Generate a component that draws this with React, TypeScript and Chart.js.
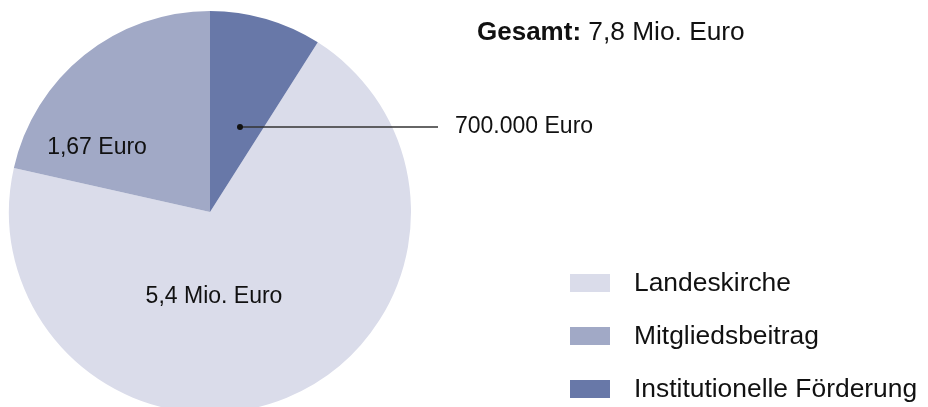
import React, { useEffect, useRef } from "react";
import { Chart, registerables } from "chart.js";

Chart.register(...registerables);

const categories = ["Landeskirche", "Mitgliedsbeitrag", "Institutionelle Förderung"];
const values = [5.4, 1.67, 0.7]; // Mio. Euro
const sliceLabels = ["5,4 Mio. Euro", "1,67 Euro", "700.000 Euro"];
const colors = ["#DADCEA", "#A1A9C6", "#6878A8"];
const totalLabelBold = "Gesamt:";
const totalLabelRest = " 7,8 Mio. Euro";

const FONT = "'Liberation Sans', Arial, Helvetica, sans-serif";

const overlayPlugin = {
  id: "overlay",
  afterDraw(chart: any) {
    const ctx = chart.ctx as CanvasRenderingContext2D;
    const meta = chart.getDatasetMeta(0);
    const arc0 = meta.data[0] as any;
    const cx = arc0.x;
    const cy = arc0.y;
    ctx.save();
    ctx.fillStyle = "#111";
    ctx.textBaseline = "middle";
    ctx.font = `23px ${FONT}`;

    // Landeskirche label
    ctx.textAlign = "center";
    ctx.fillText(sliceLabels[0], cx + 4, cy + 85);
    // Mitgliedsbeitrag label
    ctx.fillText(sliceLabels[1], cx - 113, cy - 64);

    // Institutionelle Förderung leader line
    const dx = cx + 30;
    const dy = cy - 85;
    ctx.strokeStyle = "#333";
    ctx.lineWidth = 1.6;
    ctx.beginPath();
    ctx.moveTo(dx, dy);
    ctx.lineTo(cx + 228, dy);
    ctx.stroke();
    ctx.fillStyle = "#111";
    ctx.beginPath();
    ctx.arc(dx, dy, 3, 0, Math.PI * 2);
    ctx.fill();
    ctx.textAlign = "left";
    ctx.fillText(sliceLabels[2], cx + 245, dy);

    // Total
    ctx.font = `bold 26px ${FONT}`;
    const tx = 477;
    const ty = 33;
    ctx.fillText(totalLabelBold, tx, ty);
    const bw = ctx.measureText(totalLabelBold).width;
    ctx.font = `26.3px ${FONT}`;
    ctx.fillText(totalLabelRest, tx + bw, ty);

    // Legend
    const lx = 570;
    const rows = [283, 336, 389];
    categories.forEach((c, i) => {
      ctx.fillStyle = colors[i];
      ctx.fillRect(lx, rows[i] - 9, 40, 18);
      ctx.fillStyle = "#111";
      ctx.font = `26.4px ${FONT}`;
      ctx.fillText(c, 634, rows[i] + 1);
    });
    ctx.restore();
  },
};

export default function App() {
  const ref = useRef<HTMLCanvasElement>(null);
  useEffect(() => {
    document.body.style.margin = "0";
    const total = values.reduce((a, b) => a + b, 0);
    const rotation = (values[2] / total) * 360;
    const chart = new Chart(ref.current!, {
      type: "pie",
      data: {
        labels: categories,
        datasets: [
          {
            data: values,
            backgroundColor: colors,
            borderWidth: 0,
          },
        ],
      },
      options: {
        animation: false,
        responsive: false,
        rotation,
        layout: { padding: { left: 9, right: 517, top: 11, bottom: 7 } },
        plugins: {
          legend: { display: false },
          tooltip: { enabled: false },
        },
      },
      plugins: [overlayPlugin],
    });
    return () => chart.destroy();
  }, []);
  return (
    <div style={{ width: 928, height: 407, overflow: "hidden", background: "#fff" }}>
      <canvas ref={ref} width={928} height={420} style={{ display: "block" }} />
    </div>
  );
}
